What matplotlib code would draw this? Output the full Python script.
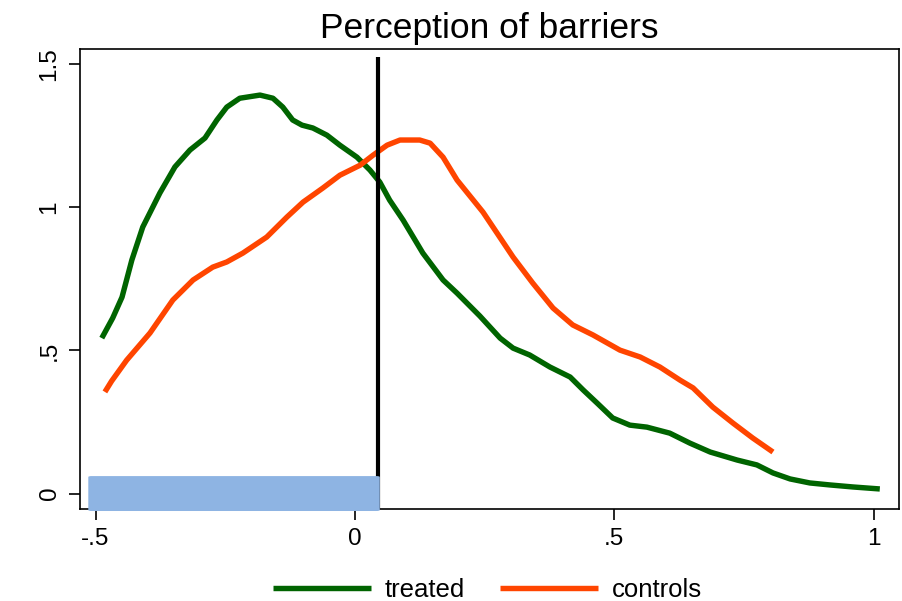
import matplotlib
matplotlib.use("Agg")
import matplotlib.pyplot as plt
from matplotlib.patches import FancyBboxPatch

# Kernel density estimates of perceived barriers
treated_x = [-0.488, -0.467, -0.449, -0.430, -0.409, -0.376, -0.347, -0.318, -0.289, -0.266,
             -0.247, -0.222, -0.183, -0.158, -0.139, -0.120, -0.102, -0.081, -0.054, -0.029,
             0.004, 0.029, 0.048, 0.067, 0.093, 0.131, 0.170, 0.197, 0.241, 0.280,
             0.305, 0.337, 0.376, 0.415, 0.440, 0.467, 0.497, 0.530, 0.563, 0.607,
             0.646, 0.685, 0.737, 0.775, 0.806, 0.839, 0.877, 0.916, 0.960, 1.012]
treated_y = [0.543, 0.613, 0.686, 0.816, 0.931, 1.050, 1.141, 1.200, 1.242, 1.305,
             1.350, 1.381, 1.392, 1.381, 1.350, 1.305, 1.287, 1.277, 1.252, 1.217,
             1.175, 1.130, 1.088, 1.025, 0.955, 0.840, 0.746, 0.700, 0.620, 0.543,
             0.508, 0.484, 0.442, 0.407, 0.362, 0.316, 0.264, 0.239, 0.232, 0.211,
             0.176, 0.145, 0.117, 0.100, 0.072, 0.051, 0.037, 0.030, 0.023, 0.016]

controls_x = [-0.482, -0.469, -0.440, -0.395, -0.351, -0.312, -0.274, -0.247, -0.216, -0.170,
              -0.131, -0.100, -0.062, -0.029, 0.010, 0.035, 0.062, 0.087, 0.125, 0.145,
              0.170, 0.197, 0.222, 0.247, 0.274, 0.305, 0.343, 0.382, 0.420, 0.459,
              0.511, 0.550, 0.588, 0.627, 0.652, 0.690, 0.729, 0.767, 0.806]
controls_y = [0.355, 0.393, 0.466, 0.561, 0.676, 0.746, 0.791, 0.809, 0.840, 0.896,
              0.966, 1.018, 1.067, 1.112, 1.147, 1.182, 1.217, 1.235, 1.235, 1.224,
              1.175, 1.095, 1.039, 0.983, 0.910, 0.826, 0.735, 0.648, 0.589, 0.554,
              0.501, 0.477, 0.442, 0.396, 0.369, 0.302, 0.246, 0.194, 0.145]

# Common-support band and cutoff
band_x = [-0.514, 0.048]
band_y = [-0.061, 0.061]
cutoff_x = 0.044
cutoff_top = 1.525

x_ticks = [-0.5, 0, 0.5, 1]
x_labels = ["-.5", "0", ".5", "1"]
y_ticks = [0, 0.5, 1, 1.5]
y_labels = ["0", ".5", "1", "1.5"]

plt.rcParams["font.family"] = ["Liberation Sans", "DejaVu Sans"]

fig = plt.figure(figsize=(9.03, 6.01), dpi=100)
ax = fig.add_axes([80 / 903, 1 - 509 / 601, 819 / 903, 460 / 601])

ax.set_xlim(-0.530, 1.049)
ax.set_ylim(-0.054, 1.553)

ax.plot(treated_x, treated_y, color="#006400", lw=3.9, label="treated", zorder=3,
        solid_capstyle="butt")
ax.plot(controls_x, controls_y, color="#FF4500", lw=3.9, label="controls", zorder=3,
        solid_capstyle="butt")
ax.plot([cutoff_x, cutoff_x], [ax.get_ylim()[0], cutoff_top], color="black", lw=3,
        zorder=4, solid_capstyle="butt")

band = FancyBboxPatch((band_x[0], band_y[0]), band_x[1] - band_x[0], band_y[1] - band_y[0],
                      boxstyle="round,pad=0,rounding_size=0.006", mutation_aspect=0.55,
                      facecolor="#8EB4E3", edgecolor="none", zorder=5, clip_on=False)
ax.add_patch(band)

ax.set_xticks(x_ticks)
ax.set_xticklabels(x_labels)
ax.set_yticks(y_ticks)
ax.set_yticklabels(y_labels, rotation=90, va="center")
ax.tick_params(axis="both", labelsize=17.5, length=8, width=1.2, color="black", pad=6)

for s in ax.spines.values():
    s.set_linewidth(1.2)

ax.set_title("Perception of barriers", fontsize=25.5, pad=8)

fig.legend(loc="center", bbox_to_anchor=(487.5 / 903, 1 - 590 / 601), ncol=2, frameon=False,
           fontsize=18.5, handlelength=3.8, columnspacing=1.35, handletextpad=0.55)

fig.savefig("out.png", dpi=100, facecolor="white")
